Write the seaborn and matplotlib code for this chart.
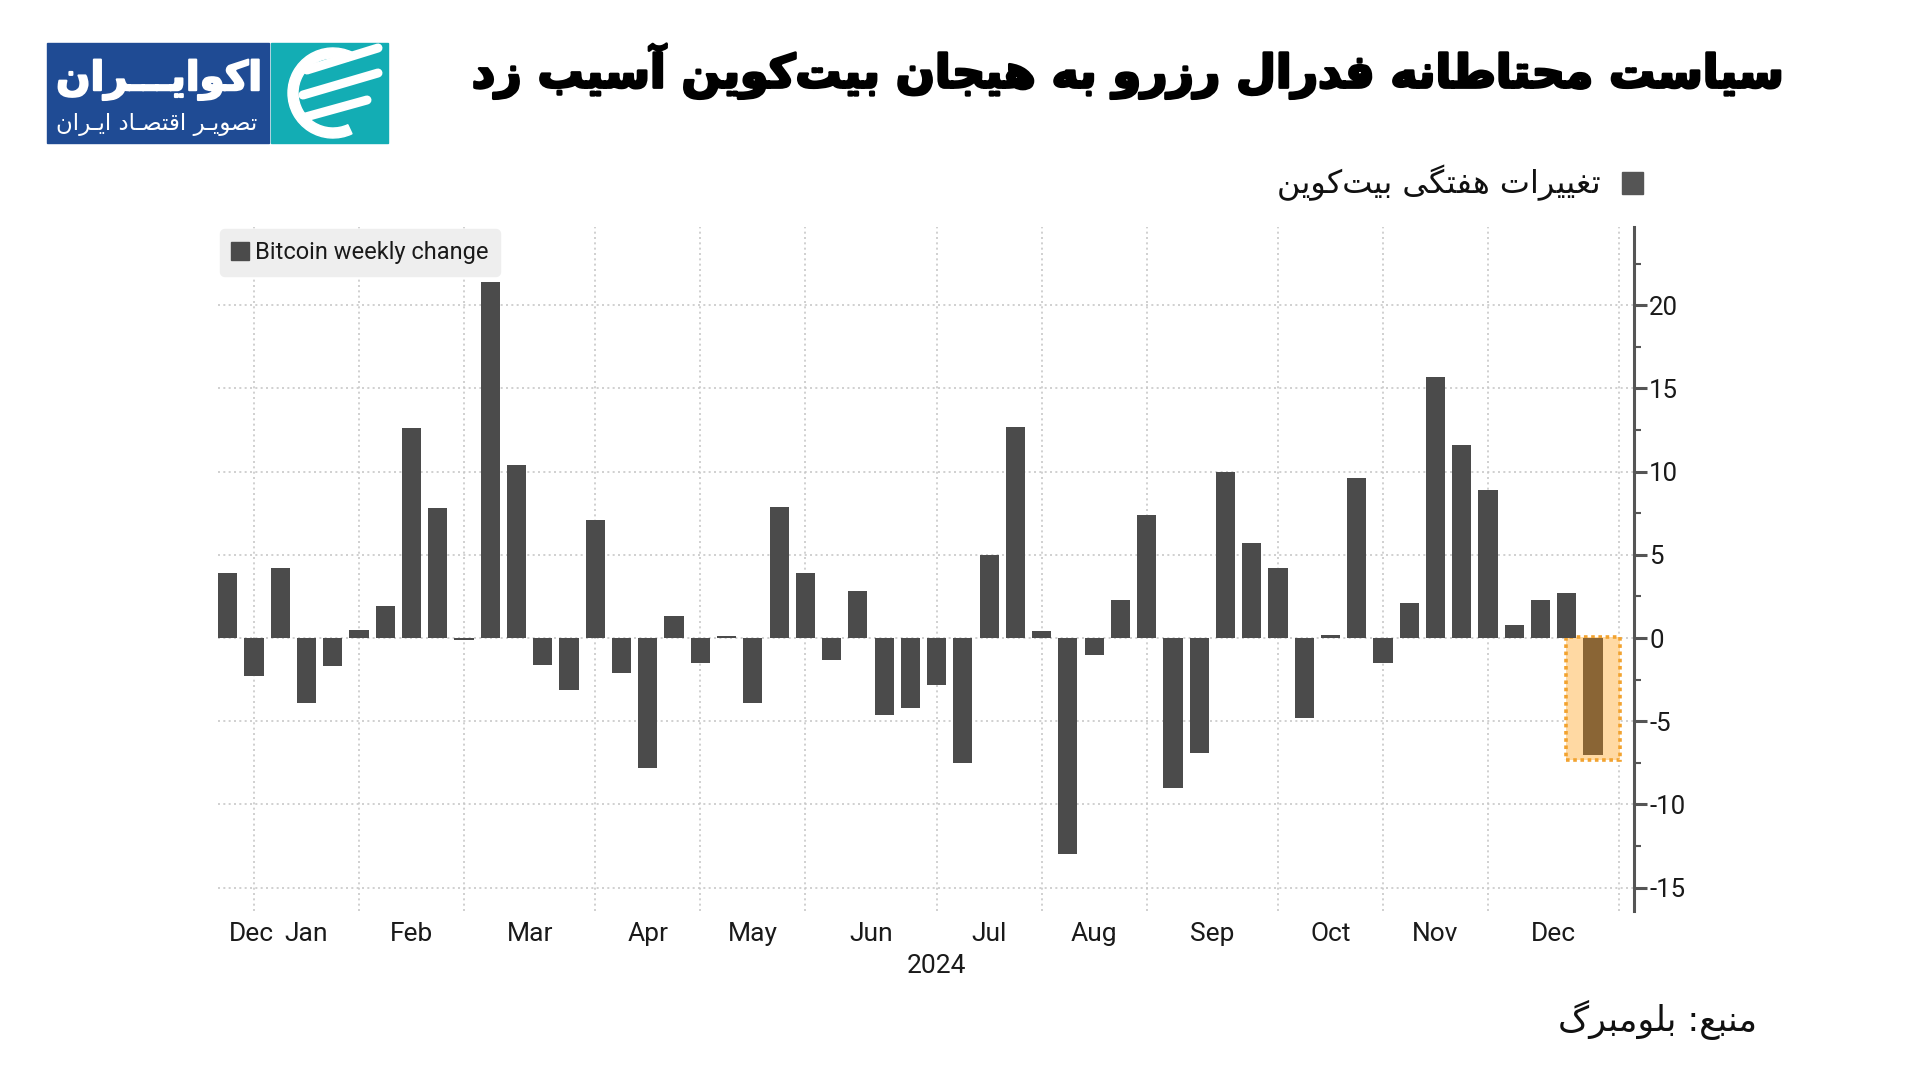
import numpy as np
import pandas as pd
import matplotlib
matplotlib.use("Agg")
import matplotlib.pyplot as plt
import matplotlib.patheffects as pe
import seaborn as sns
from matplotlib.lines import Line2D
from matplotlib.patches import Rectangle, Wedge

# ---- data: Bitcoin weekly change (%), weeks ending Sunday ----
week_ending = pd.date_range("2023-12-31", periods=53, freq="7D")
weekly_change = [
    3.9, -2.3, 4.2, -3.9, -1.7, 0.5, 1.9, 12.6, 7.8, -0.1,
    21.4, 10.4, -1.6, -3.1, 7.1, -2.1, -7.8, 1.3, -1.5, 0.1,
    -3.9, 7.9, 3.9, -1.3, 2.8, -4.6, -4.2, -2.8, -7.5, 5.0,
    12.7, 0.4, -13.0, -1.0, 2.3, 7.4, -9.0, -6.9, 10.0, 5.7,
    4.2, -4.8, 0.2, 9.6, -1.5, 2.1, 15.7, 11.6, 8.9, 0.8,
    2.3, 2.7, -7.0,
]
month_names = ["Dec", "Jan", "Feb", "Mar", "Apr", "May", "Jun",
               "Jul", "Aug", "Sep", "Oct", "Nov", "Dec"]
year_label = "2024"
y_ticks = [-15, -10, -5, 0, 5, 10, 15, 20]

title_fa = "سیاست محتاطانه فدرال رزرو به هیجان بیت‌کوین آسیب زد"
legend_fa = "تغییرات هفتگی بیت‌کوین"
source_fa = "منبع: بلومبرگ"
logo_fa = "اکوایـــران"
logo_sub_fa = "تصویـر اقتصـاد ایـران"
legend_en = "Bitcoin weekly change"

BAR_COLOR = "#4b4b4b"
HIGHLIGHT_BAR = "#8a6535"

# ---- tiny Persian shaper (matplotlib has no Arabic shaping / bidi) ----
# isolated, final, initial, medial  (right-joining letters only have 2 forms)
_FORMS = {
    "ب": (0xFE8F, 0xFE90, 0xFE91, 0xFE92), "پ": (0xFB56, 0xFB57, 0xFB58, 0xFB59),
    "ت": (0xFE95, 0xFE96, 0xFE97, 0xFE98), "ث": (0xFE99, 0xFE9A, 0xFE9B, 0xFE9C),
    "ج": (0xFE9D, 0xFE9E, 0xFE9F, 0xFEA0), "چ": (0xFB7A, 0xFB7B, 0xFB7C, 0xFB7D),
    "ح": (0xFEA1, 0xFEA2, 0xFEA3, 0xFEA4), "خ": (0xFEA5, 0xFEA6, 0xFEA7, 0xFEA8),
    "س": (0xFEB1, 0xFEB2, 0xFEB3, 0xFEB4), "ش": (0xFEB5, 0xFEB6, 0xFEB7, 0xFEB8),
    "ص": (0xFEB9, 0xFEBA, 0xFEBB, 0xFEBC), "ض": (0xFEBD, 0xFEBE, 0xFEBF, 0xFEC0),
    "ط": (0xFEC1, 0xFEC2, 0xFEC3, 0xFEC4), "ظ": (0xFEC5, 0xFEC6, 0xFEC7, 0xFEC8),
    "ع": (0xFEC9, 0xFECA, 0xFECB, 0xFECC), "غ": (0xFECD, 0xFECE, 0xFECF, 0xFED0),
    "ف": (0xFED1, 0xFED2, 0xFED3, 0xFED4), "ق": (0xFED5, 0xFED6, 0xFED7, 0xFED8),
    "ک": (0xFB8E, 0xFB8F, 0xFB90, 0xFB91), "گ": (0xFB92, 0xFB93, 0xFB94, 0xFB95),
    "ل": (0xFEDD, 0xFEDE, 0xFEDF, 0xFEE0), "م": (0xFEE1, 0xFEE2, 0xFEE3, 0xFEE4),
    "ن": (0xFEE5, 0xFEE6, 0xFEE7, 0xFEE8), "ه": (0xFEE9, 0xFEEA, 0xFEEB, 0xFEEC),
    "ی": (0xFBFC, 0xFBFD, 0xFBFE, 0xFBFF),
    "ا": (0xFE8D, 0xFE8E), "آ": (0xFE81, 0xFE82), "د": (0xFEA9, 0xFEAA),
    "ذ": (0xFEAB, 0xFEAC), "ر": (0xFEAD, 0xFEAE), "ز": (0xFEAF, 0xFEB0),
    "ژ": (0xFB8A, 0xFB8B), "و": (0xFEED, 0xFEEE),
}
TATWEEL = "\u0640"


def _joins_next(c):
    return c == TATWEEL or (c in _FORMS and len(_FORMS[c]) == 4)


def _joins_prev(c):
    return c == TATWEEL or c in _FORMS


def fa(text):
    out = []
    for i, c in enumerate(text):
        if c not in _FORMS:
            if c != "\u200c":
                out.append(c)
            continue
        prev_c = text[i - 1] if i > 0 else ""
        next_c = text[i + 1] if i + 1 < len(text) else ""
        p = _joins_next(prev_c)
        n = len(_FORMS[c]) == 4 and _joins_prev(next_c)
        forms = _FORMS[c]
        if p and n:
            g = forms[3]
        elif p:
            g = forms[1]
        elif n:
            g = forms[2]
        else:
            g = forms[0]
        out.append(chr(g))
    return "".join(reversed(out))


# ---- style ----
sns.set_style("white")
plt.rcParams["font.family"] = ["Roboto", "DejaVu Sans"]
plt.rcParams["axes.unicode_minus"] = False
FA_FONT = ["DejaVu Sans"]

fig = plt.figure(figsize=(19.2, 10.8), dpi=100)

# overlay in pixel coordinates for header / logo / source
over = fig.add_axes([0, 0, 1, 1])
over.set_xlim(0, 1920)
over.set_ylim(1080, 0)
over.axis("off")

# logo
over.add_patch(Rectangle((47, 43), 222, 100, color="#1f4b94"))
over.add_patch(Rectangle((271, 43), 117, 100, color="#13adb4"))
over.text(159, 80, fa(logo_fa), color="white", fontsize=29, fontweight="bold",
          family=FA_FONT, ha="center", va="center",
          path_effects=[pe.withStroke(linewidth=1.5, foreground="white")])
over.text(157, 125, fa(logo_sub_fa), color="white", fontsize=16.5,
          family=FA_FONT, ha="center", va="center")
over.add_patch(Wedge((333, 93), 45, 65, 295, width=10, color="white"))
for x0, y0, x1, y1 in [(307, 70, 378, 48), (303, 95, 378, 73), (302, 118, 367, 100)]:
    over.plot([x0, x1], [y0, y1], color="white", lw=6.5, solid_capstyle="round")

# title, persian legend, source
over.text(1788, 71, fa(title_fa), ha="right", va="center", fontsize=33,
          fontweight="bold", family=FA_FONT, color="black",
          path_effects=[pe.withStroke(linewidth=2, foreground="black")])
over.add_patch(Rectangle((1622, 172), 21, 22, color="#555555"))
over.text(1601, 183, fa(legend_fa), ha="right", va="center", fontsize=23,
          family=FA_FONT, color="#111111")
over.text(1757, 1020, fa(source_fa), ha="right", va="center", fontsize=25,
          family=FA_FONT, color="#111111")

# ---- main chart ----
ax = fig.add_axes([218 / 1920, 169 / 1080, 1416 / 1920, 684 / 1080])
ax.set_facecolor("none")

n = len(weekly_change)
df = pd.DataFrame({
    "week": np.arange(n),
    "change": weekly_change,
    "kind": ["past"] * (n - 1) + ["latest"],
})

# orange box behind the latest bar
last = n - 1
ax.add_patch(Rectangle((last - 1.03, -7.35), 2.06, 7.43, facecolor="#ffd9a3",
                       edgecolor="#f2a330", linestyle=(0, (1, 1)), lw=2.6, zorder=0.9))

sns.barplot(data=df, x="week", y="change", hue="kind", native_scale=True,
            palette={"past": BAR_COLOR, "latest": HIGHLIGHT_BAR},
            width=0.73, dodge=False, legend=False, saturation=1,
            linewidth=0, ax=ax, zorder=2)

# month boundaries from the week dates
bounds = [i for i in range(1, n) if week_ending[i].month != week_ending[i - 1].month]
bounds.append(n)
label_pos = [bounds[0] - 0.1] + [(a + b) / 2 for a, b in zip(bounds[:-1], bounds[1:])]

ax.set_xlim(-0.37, 53.56)
ax.set_ylim(-16.4, 24.7)

ax.set_xticks(label_pos, month_names)
ax.set_xticks(bounds, minor=True)
ax.set_yticks(y_ticks)
ax.yaxis.set_minor_locator(matplotlib.ticker.MultipleLocator(2.5))
ax.yaxis.tick_right()

ax.set_axisbelow(True)
grid_kw = dict(color="#c8c8c8", linestyle=(0, (1.2, 2)), linewidth=1.2)
ax.grid(axis="y", which="major", **grid_kw)
ax.grid(axis="x", which="minor", **grid_kw)
ax.grid(axis="x", which="major", visible=False)

for side in ["left", "top", "bottom"]:
    ax.spines[side].set_visible(False)
ax.spines["right"].set_color("#555555")
ax.spines["right"].set_linewidth(2.2)

ax.tick_params(axis="y", which="major", direction="out", length=9, width=2.2,
               color="#555555", labelsize=18.5, labelcolor="#1a1a1a", pad=2)
ax.tick_params(axis="y", which="minor", direction="out", length=5, width=1.5,
               color="#555555")
ax.tick_params(axis="x", which="both", length=0, labelsize=19,
               labelcolor="#1a1a1a", pad=8)
ax.set_xlabel("")
ax.set_ylabel("")

ax.text((bounds[0] + bounds[-1]) / 2, -0.08, year_label, transform=ax.get_xaxis_transform(),
        ha="center", va="center", fontsize=19, color="#1a1a1a")

handle = Line2D([], [], marker="s", linestyle="none", markersize=13, color=BAR_COLOR)
leg = ax.legend([handle], [legend_en], loc="upper left", bbox_to_anchor=(0.0, 1.0),
                borderaxespad=0.1, frameon=True, fancybox=True, fontsize=17,
                handlelength=0.7, handletextpad=0.25, borderpad=0.5)
leg.get_frame().set_facecolor("#eeeeee")
leg.get_frame().set_edgecolor("#eeeeee")
leg.get_frame().set_alpha(1)
for t in leg.get_texts():
    t.set_color("#1a1a1a")

fig.savefig("out.png", dpi=100)
